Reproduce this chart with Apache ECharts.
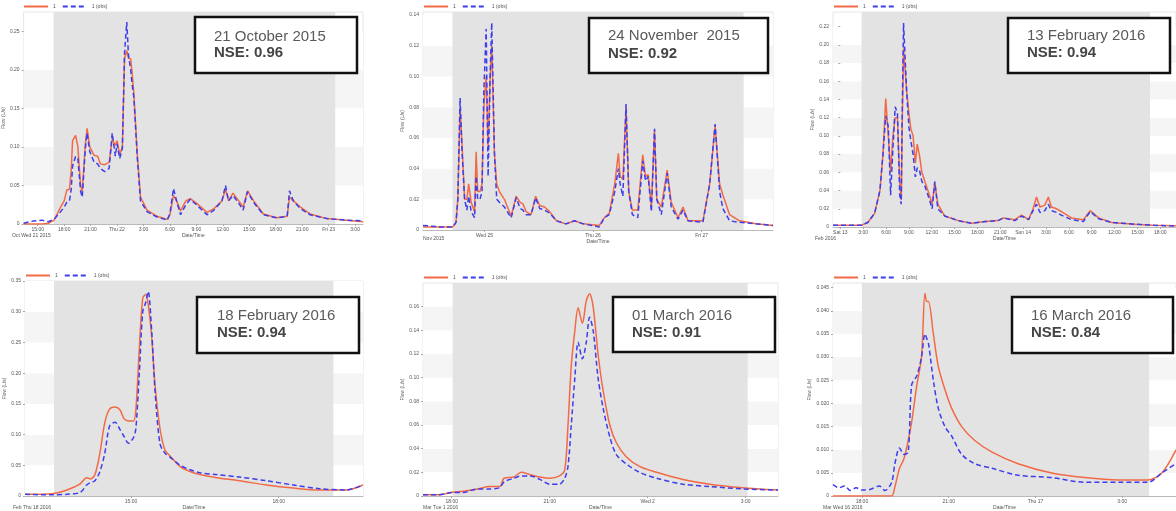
<!DOCTYPE html>
<html>
<head>
<meta charset="utf-8">
<script src="https://cdn.jsdelivr.net/npm/echarts@6/dist/echarts.min.js"></script>
<style>
  html, body { margin: 0; padding: 0; background: #fff; }
  #main { width: 1176px; height: 511px; }
</style>
</head>
<body>
<div id="main"></div>
<script>
// time in hours from midnight of the first labelled day of each event
var t1 = [13.4, 14.5, 15.5, 16.2, 16.85, 17.3, 17.6, 18.0, 18.3, 18.6, 18.8, 18.95, 19.3, 19.55, 19.87, 20.05, 20.4, 20.6, 20.9, 21.4, 21.8, 22.1, 22.6, 23.1, 23.45, 23.8, 24.0, 24.3, 24.6, 24.85, 25.1, 25.3, 25.55, 25.7, 25.9, 26.3, 26.66, 27.4, 28.55, 29.7, 30.0, 30.4, 30.75, 31.2, 31.8, 32.3, 33.0, 34.2, 35.0, 35.9, 36.3, 36.65, 37.15, 37.8, 38.3, 38.8, 39.5, 40.6, 42.1, 43.3, 43.56, 44.0, 44.8, 45.9, 47.8, 50.0, 51.9];
var sim1 = [0, 0, 0, 0.001, 0.005, 0.015, 0.022, 0.03, 0.044, 0.045, 0.07, 0.108, 0.115, 0.1, 0.05, 0.042, 0.104, 0.124, 0.1, 0.089, 0.088, 0.078, 0.077, 0.08, 0.11, 0.102, 0.108, 0.09, 0.1, 0.215, 0.225, 0.215, 0.214, 0.197, 0.17, 0.09, 0.035, 0.018, 0.01, 0.006, 0.012, 0.037, 0.03, 0.017, 0.03, 0.033, 0.027, 0.015, 0.02, 0.03, 0.045, 0.03, 0.04, 0.03, 0.022, 0.043, 0.03, 0.013, 0.008, 0.01, 0.035, 0.03, 0.022, 0.013, 0.007, 0.005, 0.003];
var obs1 = [0.001, 0.004, 0.005, 0.003, 0.006, 0.012, 0.016, 0.022, 0.028, 0.03, 0.045, 0.075, 0.088, 0.085, 0.042, 0.035, 0.098, 0.118, 0.094, 0.08, 0.078, 0.072, 0.068, 0.072, 0.118, 0.088, 0.104, 0.085, 0.098, 0.222, 0.262, 0.218, 0.2, 0.182, 0.165, 0.085, 0.03, 0.016, 0.009, 0.005, 0.014, 0.046, 0.03, 0.012, 0.025, 0.032, 0.025, 0.012, 0.018, 0.03, 0.05, 0.03, 0.037, 0.027, 0.018, 0.042, 0.028, 0.012, 0.008, 0.01, 0.043, 0.03, 0.02, 0.012, 0.007, 0.005, 0.004];

var t2 = [-13.6, -10, -7, -6.3, -5.9, -5.4, -4.95, -4.4, -3.9, -3.5, -2.95, -2.2, -1.85, -1.5, -1.0, -0.55, -0.15, 0.37, 0.8, 1.25, 1.6, 2.2, 2.7, 3.3, 4.4, 5.9, 7.0, 7.9, 8.5, 9.2, 10.3, 11.3, 12.2, 13.3, 14.4, 15.9, 18.0, 19.9, 21.8, 25.4, 26.5, 27.6, 28.8, 29.6, 30.0, 30.6, 31.3, 31.9, 32.7, 33.9, 35.0, 35.6, 36.2, 36.9, 37.6, 38.1, 39.1, 40.4, 41.3, 42.8, 43.9, 45.0, 48.3, 49.8, 51.0, 52.0, 52.7, 54.2, 56.4, 60, 63.8];
var sim2 = [0.002, 0.002, 0.002, 0.005, 0.02, 0.08, 0.055, 0.02, 0.02, 0.03, 0.018, 0.012, 0.051, 0.025, 0.025, 0.03, 0.08, 0.1, 0.054, 0.1, 0.12, 0.05, 0.03, 0.025, 0.02, 0.009, 0.022, 0.018, 0.017, 0.012, 0.01, 0.022, 0.016, 0.015, 0.012, 0.006, 0.004, 0.006, 0.004, 0.003, 0.008, 0.011, 0.03, 0.05, 0.035, 0.033, 0.08, 0.025, 0.013, 0.013, 0.049, 0.035, 0.036, 0.015, 0.065, 0.02, 0.015, 0.039, 0.018, 0.008, 0.015, 0.006, 0.006, 0.03, 0.068, 0.03, 0.023, 0.01, 0.006, 0.004, 0.003];
var obs2 = [0.003, 0.002, 0.002, 0.005, 0.02, 0.086, 0.05, 0.02, 0.013, 0.022, 0.012, 0.008, 0.035, 0.02, 0.02, 0.025, 0.09, 0.131, 0.035, 0.1, 0.135, 0.05, 0.02, 0.018, 0.015, 0.008, 0.021, 0.014, 0.013, 0.01, 0.01, 0.021, 0.014, 0.013, 0.011, 0.006, 0.004, 0.006, 0.004, 0.002, 0.008, 0.01, 0.025, 0.04, 0.03, 0.022, 0.082, 0.025, 0.01, 0.008, 0.045, 0.032, 0.035, 0.012, 0.066, 0.02, 0.01, 0.037, 0.015, 0.007, 0.013, 0.006, 0.005, 0.03, 0.069, 0.025, 0.014, 0.006, 0.005, 0.004, 0.003];

var t3 = [-0.96, 1, 2.8, 3.6, 4.5, 5.2, 5.6, 5.96, 6.3, 6.6, 6.9, 7.2, 7.5, 7.8, 8.0, 8.1, 8.3, 8.7, 9.0, 9.25, 9.55, 9.85, 10.1, 10.4, 10.7, 11.1, 11.7, 12.05, 12.4, 12.8, 13.7, 15.5, 17.2, 19.0, 20.7, 21.4, 22.9, 23.8, 24.7, 25.3, 25.75, 26.2, 26.85, 27.3, 27.7, 28.4, 29.0, 30.35, 31.9, 32.8, 33.9, 35.6, 38.7, 41, 44.06];
var sim3 = [0.002, 0.002, 0.002, 0.005, 0.015, 0.04, 0.08, 0.141, 0.1, 0.06, 0.1, 0.12, 0.12, 0.05, 0.03, 0.1, 0.196, 0.15, 0.125, 0.108, 0.1, 0.07, 0.091, 0.078, 0.06, 0.05, 0.035, 0.025, 0.049, 0.025, 0.012, 0.007, 0.004, 0.006, 0.007, 0.01, 0.008, 0.013, 0.008, 0.02, 0.033, 0.022, 0.024, 0.033, 0.022, 0.02, 0.017, 0.01, 0.008, 0.018, 0.01, 0.005, 0.003, 0.002, 0.0015];
var obs3 = [0.002, 0.002, 0.002, 0.005, 0.015, 0.04, 0.08, 0.122, 0.11, 0.035, 0.085, 0.132, 0.125, 0.035, 0.025, 0.11, 0.224, 0.15, 0.11, 0.095, 0.08, 0.055, 0.065, 0.062, 0.05, 0.045, 0.03, 0.02, 0.05, 0.02, 0.012, 0.007, 0.004, 0.006, 0.007, 0.01, 0.007, 0.012, 0.008, 0.018, 0.025, 0.016, 0.018, 0.025, 0.018, 0.016, 0.013, 0.008, 0.006, 0.017, 0.009, 0.005, 0.003, 0.002, 0.001];

var t4 = [12.85, 13.4, 13.7, 13.97, 14.1, 14.18, 14.27, 14.37, 14.47, 14.57, 14.68, 14.78, 14.86, 14.95, 15.05, 15.1, 15.17, 15.24, 15.3, 15.35, 15.42, 15.49, 15.59, 15.69, 15.8, 16.0, 16.2, 16.4, 16.74, 17.2, 17.75, 18.3, 18.83, 19.37, 19.71];
var sim4 = [0.003, 0.004, 0.01, 0.02, 0.03, 0.028, 0.035, 0.07, 0.12, 0.142, 0.145, 0.14, 0.126, 0.122, 0.122, 0.14, 0.24, 0.322, 0.328, 0.312, 0.26, 0.18, 0.11, 0.075, 0.065, 0.048, 0.04, 0.035, 0.03, 0.025, 0.018, 0.013, 0.01, 0.01, 0.018];
var obs4 = [0.003, 0.002, 0.003, 0.006, 0.018, 0.022, 0.025, 0.04, 0.07, 0.115, 0.12, 0.108, 0.097, 0.086, 0.095, 0.11, 0.2, 0.3, 0.315, 0.333, 0.27, 0.17, 0.085, 0.07, 0.063, 0.05, 0.043, 0.038, 0.035, 0.031, 0.025, 0.018, 0.012, 0.01, 0.018];

var t5 = [17.12, 17.6, 18.0, 18.35, 18.8, 19.16, 19.47, 19.6, 19.9, 20.13, 20.4, 20.7, 21.0, 21.3, 21.46, 21.56, 21.66, 21.77, 21.87, 22.0, 22.12, 22.22, 22.33, 22.48, 22.63, 22.84, 23.04, 23.35, 23.75, 24.27, 25.08, 25.9, 26.9, 27.99];
var sim5 = [0.001, 0.001, 0.003, 0.004, 0.006, 0.008, 0.008, 0.015, 0.016, 0.02, 0.018, 0.016, 0.015, 0.017, 0.022, 0.06, 0.11, 0.14, 0.159, 0.146, 0.165, 0.171, 0.16, 0.12, 0.09, 0.06, 0.045, 0.033, 0.025, 0.02, 0.014, 0.01, 0.007, 0.005];
var obs5 = [0.001, 0.001, 0.003, 0.003, 0.006, 0.006, 0.007, 0.012, 0.015, 0.017, 0.017, 0.014, 0.01, 0.01, 0.015, 0.025, 0.06, 0.1, 0.13, 0.116, 0.13, 0.151, 0.14, 0.1, 0.075, 0.05, 0.035, 0.027, 0.02, 0.015, 0.01, 0.008, 0.006, 0.005];

var t6 = [17.0, 17.2, 17.4, 17.6, 17.8, 18.0, 18.3, 18.6, 18.8, 19.03, 19.14, 19.3, 19.45, 19.6, 19.72, 19.9, 20.06, 20.18, 20.24, 20.3, 20.47, 20.64, 20.87, 21.1, 21.45, 21.9, 22.5, 23.4, 24.56, 25.7, 26.87, 27.9, 28.37, 28.86];
var sim6 = [0, 0, 0, 0, 0, 0, 0, 0, 0, 0, 0.002, 0.006, 0.008, 0.012, 0.016, 0.024, 0.03, 0.0438, 0.042, 0.042, 0.035, 0.028, 0.023, 0.019, 0.015, 0.012, 0.0095, 0.007, 0.005, 0.004, 0.0035, 0.0035, 0.005, 0.01];
var obs6 = [0.0025, 0.0018, 0.0022, 0.0012, 0.0018, 0.0013, 0.0015, 0.0022, 0.0012, 0.003, 0.007, 0.0104, 0.009, 0.0095, 0.024, 0.026, 0.03, 0.035, 0.034, 0.033, 0.025, 0.019, 0.015, 0.013, 0.009, 0.007, 0.006, 0.0045, 0.004, 0.003, 0.003, 0.003, 0.005, 0.007];

// axis ticks and labels
var xTicks1 = [15, 18, 21, 24, 27, 30, 33, 36, 39, 42, 45, 48, 51];
var xLabels1 = ['15:00', '18:00', '21:00', 'Thu 22', '3:00', '6:00', '9:00', '12:00', '15:00', '18:00', '21:00', 'Fri 23', '3:00'];
var xTicks2 = [0, 24, 48];
var xLabels2 = ['Wed 25', 'Thu 26', 'Fri 27'];
var xTicks3 = [0, 3, 6, 9, 12, 15, 18, 21, 24, 27, 30, 33, 36, 39, 42];
var xLabels3 = ['Sat 13', '3:00', '6:00', '9:00', '12:00', '15:00', '18:00', '21:00', 'Sun 14', '3:00', '6:00', '9:00', '12:00', '15:00', '18:00'];
var xTicks4 = [15, 18];
var xLabels4 = ['15:00', '18:00'];
var xTicks5 = [18, 21, 24, 27];
var xLabels5 = ['18:00', '21:00', 'Wed 2', '3:00'];
var xTicks6 = [18, 21, 24, 27];
var xLabels6 = ['18:00', '21:00', 'Thu 17', '3:00'];

var yTicks1 = [0, 0.05, 0.1, 0.15, 0.2, 0.25];
var yTicks2 = [0, 0.02, 0.04, 0.06, 0.08, 0.1, 0.12, 0.14];
var yTicks3 = [0, 0.02, 0.04, 0.06, 0.08, 0.1, 0.12, 0.14, 0.16, 0.18, 0.2, 0.22];
var yTicks4 = [0, 0.05, 0.1, 0.15, 0.2, 0.25, 0.3, 0.35];
var yTicks5 = [0, 0.02, 0.04, 0.06, 0.08, 0.1, 0.12, 0.14, 0.16];
var yTicks6 = [0, 0.005, 0.01, 0.015, 0.02, 0.025, 0.03, 0.035, 0.04, 0.045];

var eventNames = ['21 October 2015', '24 November  2015', '13 February 2016', '18 February 2016', '01 March 2016', '16 March 2016'];
var nseValues = ['0.96', '0.92', '0.94', '0.94', '0.91', '0.84'];
var startLabels = ['Oct Wed 21 2015', 'Nov 2015', 'Feb 2016', 'Feb Thu 18 2016', 'Mar Tue 1 2016', 'Mar Wed 16 2016'];

var panels = [
  { t: t1, sim: sim1, obs: obs1, xt: xTicks1, xl: xLabels1, yt: yTicks1, xmin: 13.4, xmax: 51.9, ymax: 0.275, yint: 0.05, dec: 2, shade: [16.8, 48.75], smooth: false,
    grid: [23, 12, 340, 212], box: [195, 17, 162, 56], txt: [214, 37, 53], leg: [23, 4], start: [12, 233] },
  { t: t2, sim: sim2, obs: obs2, xt: xTicks2, xl: xLabels2, yt: yTicks2, xmin: -13.6, xmax: 63.8, ymax: 0.142, yint: 0.02, dec: 2, shade: [-7.08, 57.3], smooth: false,
    grid: [423, 12, 350, 218], box: [589, 18, 179, 55], txt: [608, 36, 54], leg: [423, 4], start: [423, 236] },
  { t: t3, sim: sim3, obs: obs3, xt: xTicks3, xl: xLabels3, yt: yTicks3, xmin: -0.96, xmax: 44.06, ymax: 0.236, yint: 0.02, dec: 2, shade: [2.8, 40.65], smooth: false,
    grid: [833, 12, 343, 215], box: [1008, 18, 162, 55], txt: [1027, 36, 53], leg: [833, 4], start: [815, 236] },
  { t: t4, sim: sim4, obs: obs4, xt: xTicks4, xl: xLabels4, yt: yTicks4, xmin: 12.85, xmax: 19.71, ymax: 0.35, yint: 0.05, dec: 2, shade: [13.44, 19.11], smooth: 0.3,
    grid: [25, 281, 338, 216], box: [197, 297, 162, 56], txt: [217, 316, 333], leg: [25, 273], start: [13, 505] },
  { t: t5, sim: sim5, obs: obs5, xt: xTicks5, xl: xLabels5, yt: yTicks5, xmin: 17.12, xmax: 27.99, ymax: 0.18, yint: 0.02, dec: 2, shade: [18.03, 27.06], smooth: 0.3,
    grid: [423, 283, 355, 213], box: [613, 297, 162, 55], txt: [632, 316, 333], leg: [423, 275], start: [423, 505] },
  { t: t6, sim: sim6, obs: obs6, xt: xTicks6, xl: xLabels6, yt: yTicks6, xmin: 17.0, xmax: 28.86, ymax: 0.046, yint: 0.005, dec: 3, shade: [18.0, 27.93], smooth: 0.3,
    grid: [833, 283, 343, 217], box: [1012, 297, 161, 56], txt: [1031, 316, 333], leg: [833, 275], start: [823, 505] }
];

var SIM_COLOR = '#f26a45';
var OBS_COLOR = '#3d3ded';
var tiny = { fontSize: 5, color: '#555', fontFamily: 'Liberation Sans' };

var option = { animation: false, backgroundColor: '#fff', grid: [], xAxis: [], yAxis: [], series: [], legend: [], graphic: [] };

panels.forEach(function (p, i) {
  option.grid.push({ left: p.grid[0], top: p.grid[1], width: p.grid[2], height: p.grid[3], show: true, borderColor: '#e6e6e6', borderWidth: 1, backgroundColor: 'transparent' });
  option.xAxis.push({
    type: 'value', gridIndex: i, min: p.xmin, max: p.xmax,
    name: 'Date/Time', nameLocation: 'middle', nameGap: 8, nameTextStyle: tiny,
    axisLine: { lineStyle: { color: '#aaa', width: 0.8 } },
    axisTick: { customValues: p.xt, length: 2, lineStyle: { color: '#aaa' } },
    axisLabel: { customValues: p.xt, margin: 3, fontSize: 5, color: '#555',
      formatter: (function (xt, xl) { return function (v) { var k = xt.indexOf(v); return k >= 0 ? xl[k] : ''; }; })(p.xt, p.xl) },
    splitLine: { show: false }
  });
  option.yAxis.push({
    type: 'value', gridIndex: i, min: 0, max: p.ymax, interval: p.yint,
    name: 'Flow (L/s)', nameLocation: 'middle', nameGap: 14, nameRotate: 90, nameTextStyle: tiny,
    axisLine: { show: false },
    axisTick: { show: true, customValues: p.yt, length: 2, lineStyle: { color: '#aaa' } },
    axisLabel: { customValues: p.yt, margin: 4, fontSize: 5, color: '#555',
      formatter: (function (d) { return function (v) { return v === 0 ? '0' : v.toFixed(d); }; })(p.dec) },
    splitLine: { show: false },
    splitArea: { show: true, areaStyle: { color: ['#ffffff', '#f5f5f5'] } }
  });
  option.series.push({
    name: '1', type: 'line', xAxisIndex: i, yAxisIndex: i, symbol: 'none', smooth: p.smooth,
    data: p.t.map(function (x, k) { return [x, p.sim[k]]; }),
    lineStyle: { color: SIM_COLOR, width: 1.5 }, itemStyle: { color: SIM_COLOR },
    markArea: { silent: true, itemStyle: { color: '#e3e3e3' }, data: [[{ xAxis: p.shade[0] }, { xAxis: p.shade[1] }]] }
  });
  option.series.push({
    name: '1 (obs)', type: 'line', xAxisIndex: i, yAxisIndex: i, symbol: 'none', smooth: p.smooth,
    data: p.t.map(function (x, k) { return [x, p.obs[k]]; }),
    lineStyle: { color: OBS_COLOR, width: 1.5, type: [5, 3] }, itemStyle: { color: OBS_COLOR }
  });
  option.legend.push({
    data: ['1', '1 (obs)'], left: p.leg[0], top: p.leg[1], itemWidth: 24, itemHeight: 4, itemGap: 6,
    itemStyle: { opacity: 0 },
    textStyle: { fontSize: 5, color: '#555' }, padding: 0
  });
  option.graphic.push({
    type: 'rect', z: 100, shape: { x: p.box[0], y: p.box[1], width: p.box[2], height: p.box[3] },
    style: { fill: '#fff', stroke: '#111', lineWidth: 2.5 }
  });
  option.graphic.push({
    type: 'text', z: 101, x: p.txt[0], y: p.txt[1],
    style: { text: eventNames[i], fontSize: 15, fontFamily: 'Liberation Sans', fill: '#5a5a5a', verticalAlign: 'middle' }
  });
  option.graphic.push({
    type: 'text', z: 101, x: p.txt[0], y: p.txt[2],
    style: { text: 'NSE: ' + nseValues[i], fontSize: 15, fontWeight: 'bold', fontFamily: 'Liberation Sans', fill: '#454545', verticalAlign: 'middle' }
  });
  option.graphic.push({
    type: 'text', z: 101, x: p.start[0], y: p.start[1],
    style: { text: startLabels[i], fontSize: 5, fontFamily: 'Liberation Sans', fill: '#555' }
  });
});

var myChart = echarts.init(document.getElementById('main'));
myChart.setOption(option);
</script>
</body>
</html>
